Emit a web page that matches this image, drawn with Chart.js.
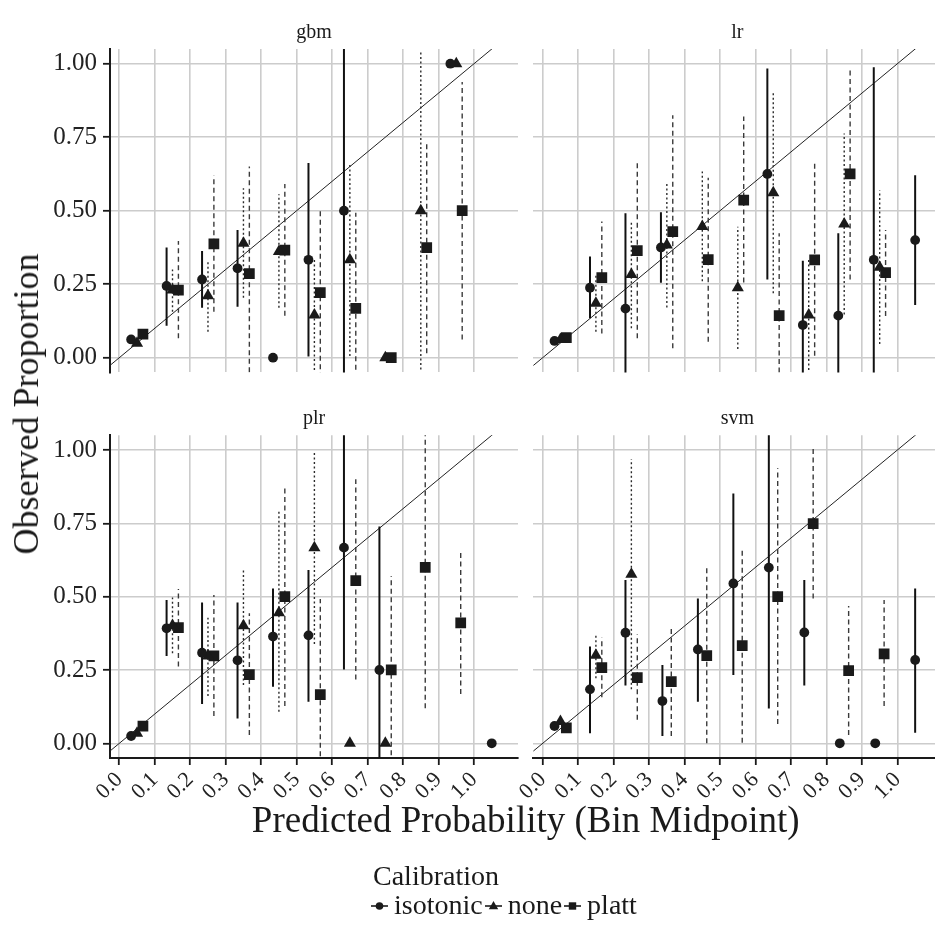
<!DOCTYPE html>
<html lang="en">
<head>
<meta charset="utf-8">
<title>Calibration by model</title>
<script src="https://cdn.jsdelivr.net/npm/chart.js@4.4.1/dist/chart.umd.min.js"></script>
<style>
  html, body { margin: 0; padding: 0; background: #ffffff; overflow: hidden; }
  #page { position: relative; width: 935px; height: 928px; overflow: hidden; background: #ffffff;
          font-family: 'Liberation Serif', 'Times New Roman', serif; color: #1a1a1a; }
  #page canvas { position: absolute; left: 0; top: 0; }
  .txt { position: absolute; white-space: nowrap; line-height: 1; }
  .strip { font-size: 20px; transform: translateX(-50%); }
  #xtitle { font-size: 37px; left: 525.7px; top: 801px; transform: translateX(-50%); }
  #ytitle { font-size: 36px; left: 26px; top: 403.5px; transform: translate(-50%, -50%) rotate(-90deg); }
  #legend-title { font-size: 28px; left: 373px; top: 861.5px; }
  #legend { position: absolute; left: 371px; top: 890.5px; display: flex; align-items: flex-start;
            font-size: 28px; line-height: 1; white-space: nowrap; }
  #legend svg { display: block; margin-top: 8.5px; }
  #legend .lab { margin-left: 6px; margin-right: 2px; }
</style>
</head>
<body>
<div id="page">
  <canvas id="c-gbm" width="945" height="928"></canvas>
  <canvas id="c-lr" width="945" height="928"></canvas>
  <canvas id="c-plr" width="945" height="928"></canvas>
  <canvas id="c-svm" width="945" height="928"></canvas>

  <div class="txt strip" style="left:314px; top:20.5px;">gbm</div>
  <div class="txt strip" style="left:737.4px; top:20.5px;">lr</div>
  <div class="txt strip" style="left:314px; top:406.8px;">plr</div>
  <div class="txt strip" style="left:737.4px; top:406.8px;">svm</div>

  <div class="txt" id="xtitle">Predicted Probability (Bin Midpoint)</div>
  <div class="txt" id="ytitle">Observed Proportion</div>

  <div class="txt" id="legend-title">Calibration</div>
  <div id="legend">
    <svg width="17" height="14" viewBox="0 0 17 14"><line x1="0" y1="7" x2="17" y2="7" stroke="#1a1a1a" stroke-width="1.6"/><circle cx="8.5" cy="7" r="3.8" fill="#1a1a1a"/></svg>
    <span class="lab">isotonic</span>
    <svg width="17" height="14" viewBox="0 0 17 14"><line x1="0" y1="7" x2="17" y2="7" stroke="#1a1a1a" stroke-width="1.6"/><polygon points="8.5,2 13.2,10.2 3.8,10.2" fill="#1a1a1a"/></svg>
    <span class="lab">none</span>
    <svg width="17" height="14" viewBox="0 0 17 14"><line x1="0" y1="7" x2="17" y2="7" stroke="#1a1a1a" stroke-width="1.6"/><rect x="4.8" y="3.3" width="7.4" height="7.4" fill="#1a1a1a"/></svg>
    <span class="lab">platt</span>
  </div>
</div>

<script>
// Bin midpoints of the predicted probability (shared by every model).
const bins = [0.05, 0.15, 0.25, 0.35, 0.45, 0.55, 0.65, 0.75, 0.85, 0.95, 1.05];
const xTicks = [0.0, 0.1, 0.2, 0.3, 0.4, 0.5, 0.6, 0.7, 0.8, 0.9, 1.0];
const yTicks = [0.00, 0.25, 0.50, 0.75, 1.00];
const calibrations = ['isotonic', 'none', 'platt'];

// Observed proportion (p) with interval bounds (lo, hi) per bin.
// NaN = bin evaluated but no estimate (keeps its dodge slot); null = no row for that bin.

// gbm
const gbmIsoP    = [0.062, 0.244, 0.266, 0.304, 0.000, 0.333, 0.500, NaN, NaN, 1.000, null];
const gbmIsoLo   = [0.052, 0.109, 0.170, 0.173, 0.000, 0.004, -0.200, null, null, 1.000, null];
const gbmIsoHi   = [0.072, 0.375, 0.363, 0.434, 0.000, 0.662, 1.200, null, null, 1.000, null];
const gbmNoneP   = [0.049, 0.230, 0.211, 0.389, 0.361, 0.145, 0.333, 0.000, 0.500, 1.000, null];
const gbmNoneLo  = [0.040, 0.156, 0.088, 0.204, 0.170, -0.042, 0.006, 0.000, -0.040, 1.000, null];
const gbmNoneHi  = [0.058, 0.300, 0.332, 0.576, 0.556, 0.332, 0.660, 0.000, 1.040, 1.000, null];
const gbmPlattP  = [0.080, 0.230, 0.387, 0.286, 0.366, 0.221, 0.168, 0.000, 0.374, 0.500, null];
const gbmPlattLo = [0.065, 0.066, 0.156, -0.078, 0.143, -0.068, -0.157, 0.000, 0.015, 0.062, null];
const gbmPlattHi = [0.095, 0.397, 0.620, 0.650, 0.591, 0.510, 0.493, 0.000, 0.735, 0.938, null];

// lr
const lrIsoP    = [0.057, 0.238, 0.167, 0.375, NaN, NaN, 0.625, 0.111, 0.143, 0.333, 0.400];
const lrIsoLo   = [0.047, 0.134, -0.158, 0.255, null, null, 0.266, -0.108, -0.137, -0.322, 0.179];
const lrIsoHi   = [0.067, 0.344, 0.491, 0.495, null, null, 0.984, 0.330, 0.423, 0.988, 0.621];
const lrNoneP   = [0.062, 0.185, 0.283, 0.383, 0.446, 0.238, 0.561, 0.145, 0.455, 0.308, null];
const lrNoneLo  = [0.052, 0.088, 0.100, 0.171, 0.260, 0.030, 0.219, -0.042, 0.147, 0.047, null];
const lrNoneHi  = [0.072, 0.282, 0.459, 0.593, 0.633, 0.445, 0.901, 0.332, 0.763, 0.569, null];
const lrPlattP  = [0.068, 0.272, 0.364, 0.429, 0.334, 0.536, 0.143, 0.333, 0.625, 0.289, null];
const lrPlattLo = [0.058, 0.082, 0.066, 0.032, 0.054, 0.256, -0.137, 0.007, 0.266, 0.142, null];
const lrPlattHi = [0.078, 0.463, 0.661, 0.825, 0.612, 0.820, 0.423, 0.660, 0.984, 0.434, null];

// plr
const plrIsoP    = [0.025, 0.392, 0.309, 0.283, 0.364, 0.368, 0.667, 0.250, NaN, NaN, 0.000];
const plrIsoLo   = [0.018, 0.298, 0.134, 0.085, 0.193, 0.142, 0.252, -0.240, null, null, 0.000];
const plrIsoHi   = [0.032, 0.489, 0.480, 0.480, 0.528, 0.591, 1.080, 0.739, null, null, 0.000];
const plrNoneP   = [0.034, 0.402, 0.298, 0.401, 0.445, 0.667, 0.000, 0.000, null, null, null];
const plrNoneLo  = [0.026, 0.307, 0.161, 0.199, 0.108, 0.339, 0.000, 0.000, null, null, null];
const plrNoneHi  = [0.042, 0.497, 0.428, 0.597, 0.790, 0.994, 0.000, 0.000, null, null, null];
const plrPlattP  = [0.059, 0.394, 0.298, 0.234, 0.500, 0.166, 0.555, 0.250, 0.600, 0.411, null];
const plrPlattLo = [0.049, 0.262, 0.093, 0.028, 0.127, -0.160, 0.218, -0.070, 0.120, 0.168, null];
const plrPlattHi = [0.069, 0.526, 0.506, 0.443, 0.869, 0.492, 0.900, 0.570, 1.080, 0.653, null];

// svm
const svmIsoP    = [0.059, 0.184, 0.377, 0.144, 0.320, 0.545, 0.599, 0.378, 0.000, 0.000, 0.284];
const svmIsoLo   = [0.050, 0.034, 0.197, 0.025, 0.142, 0.233, 0.119, 0.197, 0.000, 0.000, 0.036];
const svmIsoHi   = [0.068, 0.330, 0.557, 0.267, 0.494, 0.852, 1.080, 0.557, 0.000, 0.000, 0.528];
const svmNoneP   = [0.074, 0.300, 0.576, null, null, null, null, null, null, null, null];
const svmNoneLo  = [0.064, 0.222, 0.184, null, null, null, null, null, null, null, null];
const svmNoneHi  = [0.084, 0.372, 0.968, null, null, null, null, null, null, null, null];
const svmPlattP  = [0.053, 0.258, 0.224, 0.210, 0.299, 0.333, 0.500, 0.749, 0.248, 0.305, null];
const svmPlattLo = [0.043, 0.157, 0.080, 0.025, 0.000, 0.002, 0.066, 0.494, 0.028, 0.127, null];
const svmPlattHi = [0.063, 0.361, 0.372, 0.395, 0.597, 0.659, 0.938, 1.006, 0.468, 0.489, null];

// ---- drawing ---------------------------------------------------------------
const FONT = "'Liberation Serif', 'Times New Roman', serif";
const INK = '#1a1a1a';
const GRID = '#cccccc';
const CANVAS_W = 945, CANVAS_H = 928;
const X_MIN = -0.0262, X_MAX = 1.124, Y_MIN = -0.05, Y_MAX = 1.05;
const DODGE_WIDTH = 0.05;

const styles = {
  isotonic: { pointStyle: 'circle',   radius: 4.9, dash: [],       width: 2.0, color: '#111111' },
  none:     { pointStyle: 'triangle', radius: 7.0, dash: [2, 2.5], width: 1.4, color: '#2a2a2a' },
  platt:    { pointStyle: 'rect',     radius: 7.6, dash: [5, 3.5], width: 1.4, color: '#3a3a3a' }
};

const models = {
  gbm: { isotonic: { p: gbmIsoP, lo: gbmIsoLo, hi: gbmIsoHi },
         none:     { p: gbmNoneP, lo: gbmNoneLo, hi: gbmNoneHi },
         platt:    { p: gbmPlattP, lo: gbmPlattLo, hi: gbmPlattHi } },
  lr:  { isotonic: { p: lrIsoP, lo: lrIsoLo, hi: lrIsoHi },
         none:     { p: lrNoneP, lo: lrNoneLo, hi: lrNoneHi },
         platt:    { p: lrPlattP, lo: lrPlattLo, hi: lrPlattHi } },
  plr: { isotonic: { p: plrIsoP, lo: plrIsoLo, hi: plrIsoHi },
         none:     { p: plrNoneP, lo: plrNoneLo, hi: plrNoneHi },
         platt:    { p: plrPlattP, lo: plrPlattLo, hi: plrPlattHi } },
  svm: { isotonic: { p: svmIsoP, lo: svmIsoLo, hi: svmIsoHi },
         none:     { p: svmNoneP, lo: svmNoneLo, hi: svmNoneHi },
         platt:    { p: svmPlattP, lo: svmPlattLo, hi: svmPlattHi } }
};

function buildDatasets(model) {
  // dodge: the groups with a row in a bin share the dodge width around the midpoint
  const present = bins.map((b, i) => calibrations.filter(c => model[c].p[i] !== null));
  const xOf = (c, i) => {
    const grp = present[i], n = grp.length, slot = grp.indexOf(c);
    return bins[i] + (slot - (n - 1) / 2) * (DODGE_WIDTH / n);
  };
  const sets = [];
  sets.push({
    label: 'identity', data: [{ x: -0.2, y: -0.2 }, { x: 1.3, y: 1.3 }],
    showLine: true, pointRadius: 0, borderColor: '#222222', borderWidth: 1, clip: 0, order: 3
  });
  calibrations.forEach(c => {
    const s = model[c], st = styles[c], seg = [];
    bins.forEach((b, i) => {
      if (s.lo[i] === null || s.hi[i] === null) return;
      const x = xOf(c, i);
      seg.push({ x, y: s.lo[i] }, { x, y: s.hi[i] }, { x, y: null });
    });
    sets.push({
      label: c + ' interval', data: seg, showLine: true, spanGaps: false, pointRadius: 0,
      borderColor: st.color, borderWidth: st.width, borderDash: st.dash, clip: 0, order: 2
    });
  });
  calibrations.forEach(c => {
    const s = model[c], st = styles[c], pts = [];
    bins.forEach((b, i) => {
      const v = s.p[i];
      if (v !== null && !Number.isNaN(v)) pts.push({ x: xOf(c, i), y: v });
    });
    sets.push({
      label: c, data: pts, pointStyle: st.pointStyle, pointRadius: st.radius,
      pointBackgroundColor: INK, pointBorderWidth: 0, borderWidth: 0, clip: 0, order: 1
    });
  });
  return sets;
}

function panel(canvasId, model, rect, showX, showY) {
  const YW = showY ? 100 : 0, XH = showX ? 80 : 0;
  return new Chart(document.getElementById(canvasId), {
    type: 'scatter',
    data: { datasets: buildDatasets(model) },
    options: {
      responsive: false, animation: false, events: [], devicePixelRatio: 1,
      layout: {
        autoPadding: false,
        padding: { left: rect.left - YW, top: rect.top, right: CANVAS_W - rect.right, bottom: CANVAS_H - rect.bottom - XH }
      },
      plugins: { legend: { display: false }, tooltip: { enabled: false }, title: { display: false } },
      scales: {
        x: {
          type: 'linear', min: X_MIN, max: X_MAX, bounds: 'data',
          afterBuildTicks: s => { s.ticks = xTicks.map(v => ({ value: v })); },
          afterFit: s => { s.height = XH; },
          grid: { color: GRID, lineWidth: 1.6, drawTicks: showX, tickLength: 7, tickColor: INK, tickWidth: 1.8 },
          border: { display: showX, color: INK, width: 2 },
          ticks: {
            display: showX, minRotation: 45, maxRotation: 45, autoSkip: false, padding: 2,
            font: { family: FONT, size: 22 }, color: '#222222',
            callback: v => Number(v).toFixed(1)
          }
        },
        y: {
          type: 'linear', min: Y_MIN, max: Y_MAX, bounds: 'data',
          afterBuildTicks: s => { s.ticks = yTicks.map(v => ({ value: v })); },
          afterFit: s => { s.width = YW; },
          grid: { color: GRID, lineWidth: 1.6, drawTicks: showY, tickLength: 7, tickColor: INK, tickWidth: 1.8 },
          border: { display: showY, color: INK, width: 2 },
          ticks: {
            display: showY, padding: 6, font: { family: FONT, size: 25 }, color: '#222222',
            callback: v => Number(v).toFixed(2)
          }
        }
      }
    }
  });
}

panel('c-gbm', models.gbm, { left: 110,   top: 49,    right: 518,   bottom: 372.4 }, false, true);
panel('c-lr',  models.lr,  { left: 533.4, top: 49,    right: 941.4, bottom: 372.4 }, false, false);
panel('c-plr', models.plr, { left: 110,   top: 435.3, right: 518,   bottom: 758 },   true,  true);
panel('c-svm', models.svm, { left: 533.4, top: 435.3, right: 941.4, bottom: 758 },   true,  false);
</script>
</body>
</html>
